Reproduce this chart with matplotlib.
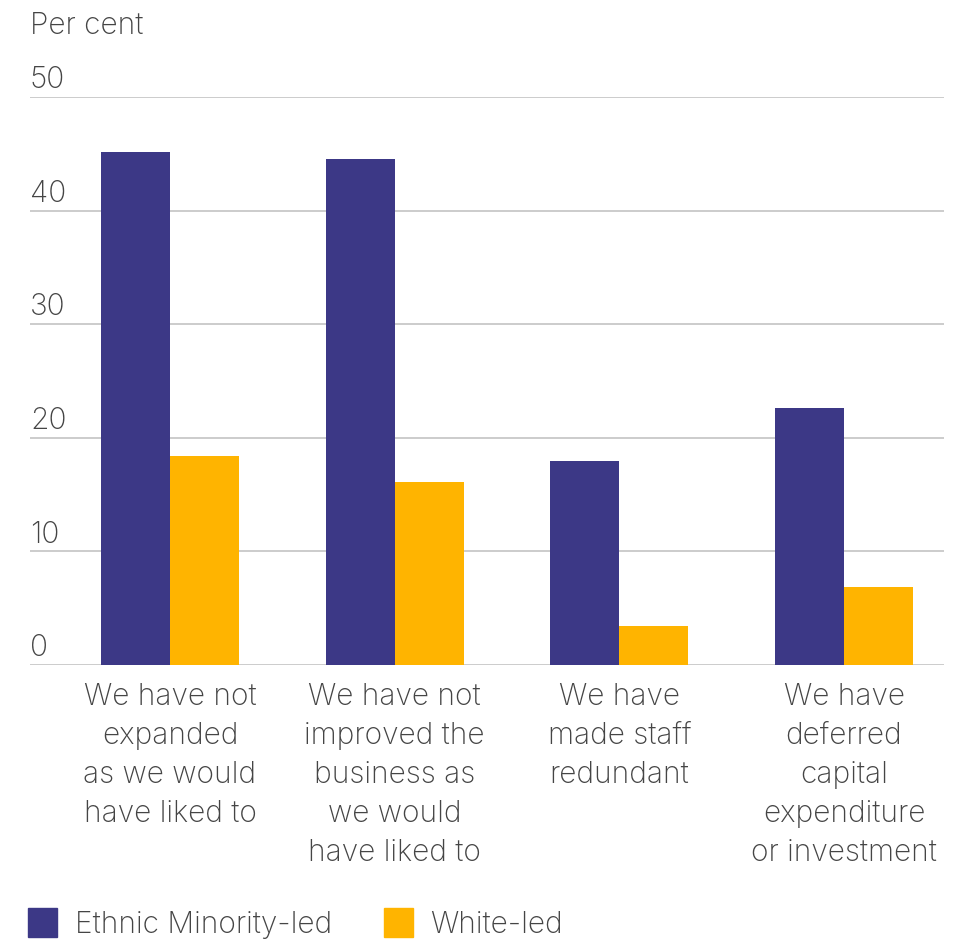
import matplotlib
matplotlib.use("Agg")
import matplotlib.pyplot as plt
from matplotlib.patches import Rectangle
import numpy as np

categories = [
    "We have not\nexpanded\nas we would\nhave liked to",
    "We have not\nimproved the\nbusiness as\nwe would\nhave liked to",
    "We have\nmade staff\nredundant",
    "We have\ndeferred\ncapital\nexpenditure\nor investment",
]
ethnic_minority = [45.2, 44.5, 18.0, 22.6]
white_led = [18.4, 16.1, 3.4, 6.9]
series_names = ["Ethnic Minority-led", "White-led"]
yticks = [0, 10, 20, 30, 40, 50]

PURPLE = "#3c3886"
YELLOW = "#ffb400"
TEXT = "#454545"
GRID = "#c8c8c8"

plt.rcParams["font.family"] = ["Inter", "DejaVu Sans"]
FS = 21.5
WT = "light"
W = 967
H = 941

fig = plt.figure(figsize=(W / 100, H / 100), dpi=100)
ax = fig.add_axes([30 / W, 1 - 665 / H, (944 - 30) / W, (665 - 97) / H])

x = np.arange(len(categories))
w = 0.307
ax.bar(x - w / 2, ethnic_minority, width=w, color=PURPLE, zorder=2)
ax.bar(x + w / 2, white_led, width=w, color=YELLOW, zorder=2)

ax.set_xlim(-0.623, 3.445)
ax.set_ylim(0, 50)
for s in ax.spines.values():
    s.set_visible(False)
ax.set_xticks([])
ax.set_yticks([])
for v in yticks:
    ax.axhline(v, color=GRID, lw=1.3, zorder=1)
    ax.text(0, v + 0.25, str(v), transform=ax.get_yaxis_transform(),
            ha="left", va="bottom", fontsize=FS, color=TEXT, weight=WT)

for xi, lab in zip(x, categories):
    ax.text(xi, -1.6, lab, ha="center", va="top", fontsize=FS, color=TEXT,
            linespacing=1.49, weight=WT)

fig.text(30 / W, 1 - 26 / H, "Per cent", ha="left", va="center",
         fontsize=FS, color=TEXT, weight=WT)

# legend: coloured squares with labels along the bottom
legend_items = [(28, 75, PURPLE), (384, 430, YELLOW)]
for (sq_x, tx_x, col), name in zip(legend_items, series_names):
    fig.patches.append(Rectangle((sq_x / W, 1 - 937 / H), 29 / W, 29 / H,
                                 transform=fig.transFigure, color=col))
    fig.text(tx_x / W, 1 - 925 / H, name, ha="left", va="center",
             fontsize=FS, color=TEXT, weight=WT)

fig.savefig("out.png", dpi=100, facecolor="white")
